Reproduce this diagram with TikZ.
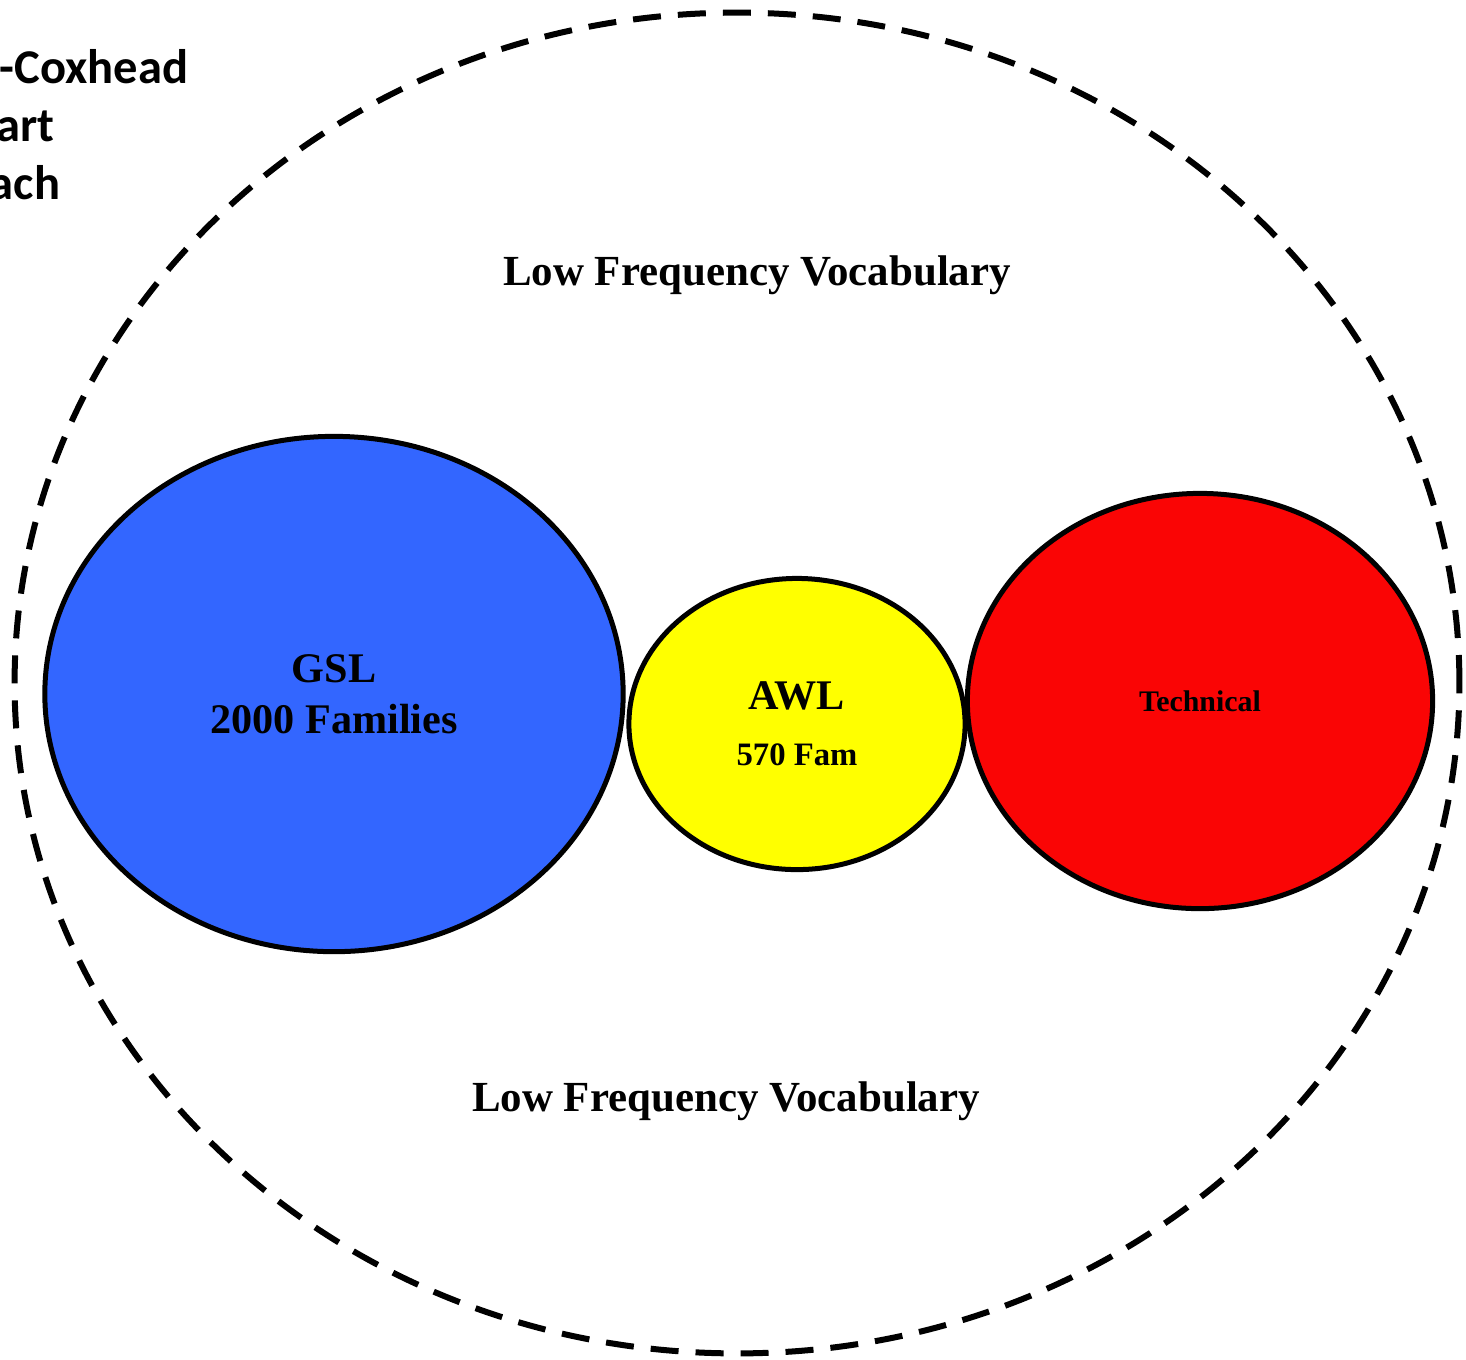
\documentclass[tikz,border=0pt]{standalone}
\usepackage{fontspec}
\setmainfont{Liberation Serif}
\newfontfamily\labelfont{Carlito}
\usetikzlibrary{shapes.geometric}
\definecolor{gslBlue}{HTML}{3366FF}
\definecolor{awlYellow}{HTML}{FFFF00}
\definecolor{techRed}{HTML}{FA0505}

\tikzset{
    wordset/.style={ellipse, draw=black, line width=0.05cm, inner sep=0pt, align=center, font=\bfseries},
    outerset/.style={draw=black, line width=0.06cm, dash pattern=on 0.28cm off 0.17cm},
    lowfreq/.style={font=\bfseries\fontsize{12.2}{15}\selectfont},
    cornertext/.style={anchor=base east, inner sep=0pt, font=\labelfont\bfseries\fontsize{13.8}{17}\selectfont}
}

\begin{document}
\begin{tikzpicture}[x=0.01cm, y=-0.01cm]
    \useasboundingbox (0,0) rectangle (1466,1359);
    \clip (0,0) rectangle (1466,1359);

    % outer region
    \draw[outerset] (737,683) ellipse [x radius=7.22cm, y radius=6.70cm];

    \node[cornertext] (title1) at (189,83) {n-Coxhead};
    \node[cornertext] (title2) at (55,141) {art};
    \node[cornertext] (title3) at (61,199) {ach};

    \node[lowfreq] (lowtop) at (757,275) {Low Frequency Vocabulary};
    \node[lowfreq] (lowbot) at (726,1101) {Low Frequency Vocabulary};

    % word lists
    \node[wordset, fill=gslBlue, minimum width=5.78cm, minimum height=5.15cm,
          font=\bfseries\fontsize{12}{14.5}\selectfont] (gsl) at (334,694)
        {GSL\\2000 Families};
    \node[wordset, fill=awlYellow, minimum width=3.36cm, minimum height=2.91cm] (awl) at (797,724)
        {{\fontsize{12}{14}\selectfont AWL}\\[4pt]{\fontsize{9.3}{11}\selectfont 570 Fam}};
    \node[wordset, fill=techRed, minimum width=4.65cm, minimum height=4.15cm,
          font=\bfseries\fontsize{8.5}{10}\selectfont] (tech) at (1200,701)
        {Technical};
\end{tikzpicture}
\end{document}
